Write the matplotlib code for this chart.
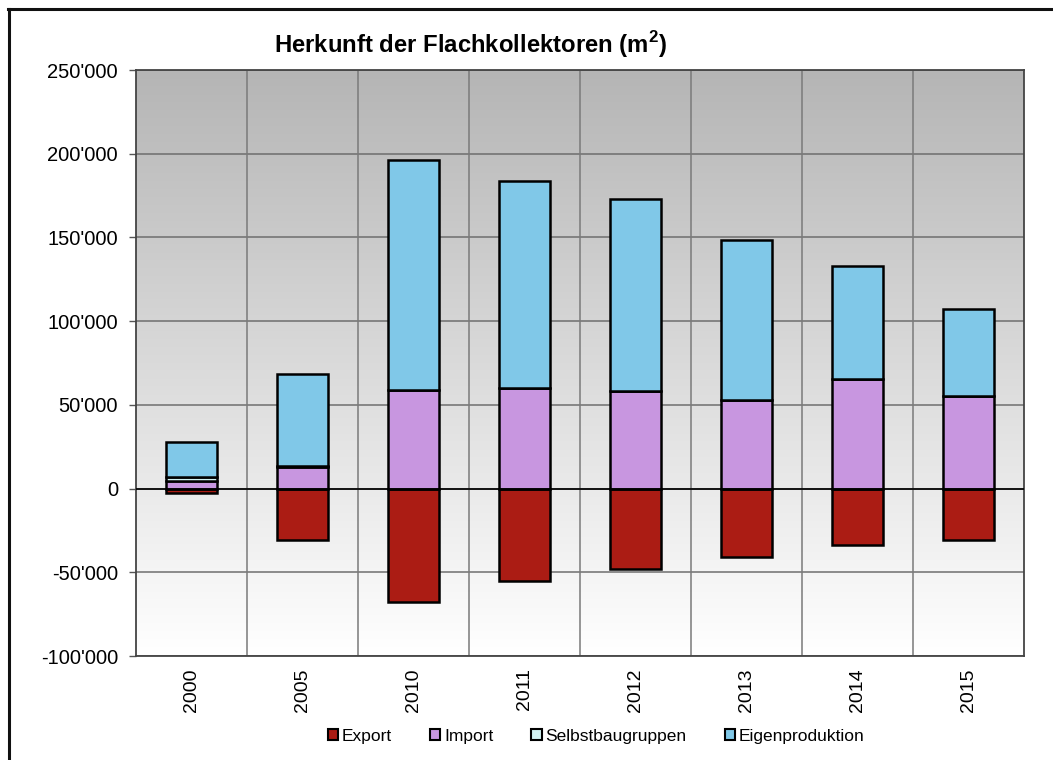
import matplotlib
matplotlib.use("Agg")
import matplotlib.pyplot as plt
import numpy as np
from matplotlib.ticker import FuncFormatter
from matplotlib.lines import Line2D
from matplotlib.patches import Patch

years = ["2000", "2005", "2010", "2011", "2012", "2013", "2014", "2015"]
export = [-2800, -31000, -67500, -55000, -48000, -41000, -34000, -31000]
imports = [4600, 13000, 59000, 60300, 58000, 53000, 65700, 55000]
selbstbau = [2600, 500, 0, 0, 0, 0, 0, 0]
eigen = [20700, 55200, 137500, 123700, 115000, 95700, 67300, 52500]

c_export = "#ab1c14"
c_import = "#c896e0"
c_selbst = "#d2f2f2"
c_eigen = "#80c8e8"

plt.rcParams['font.family'] = ['Liberation Sans', 'DejaVu Sans']
plt.rcParams['mathtext.fontset'] = 'custom'
plt.rcParams['mathtext.bf'] = 'Liberation Sans:bold'

fig = plt.figure(figsize=(10.53, 7.6), dpi=100)
ax = fig.add_axes([136/1053, 1-656/760, (1024-136)/1053, (656-70)/760])

x = np.arange(len(years))
w = 0.46
ek = dict(edgecolor="black", linewidth=1.8, zorder=3)
imp = np.array(imports)
sel = np.array(selbstbau)
ax.bar(x, export, w, color=c_export, **ek)
ax.bar(x, imp, w, color=c_import, **ek)
ax.bar(x, sel, w, bottom=imp, color=c_selbst, **ek)
ax.bar(x, eigen, w, bottom=imp + sel, color=c_eigen, **ek)

ax.set_xlim(-0.5, len(years) - 0.5)
ax.set_ylim(-100000, 250000)

# gradient background
grad = np.linspace(0, 1, 256).reshape(-1, 1)
top_c = np.array([0.71, 0.71, 0.71])
bot_c = np.array([1.0, 1.0, 1.0])
img = top_c + (bot_c - top_c) * grad
img = np.repeat(img[:, None, :], 2, axis=1).reshape(256, 2, 3)
ax.imshow(img, extent=(-0.5, len(years) - 0.5, -100000, 250000), aspect="auto",
          origin="upper", zorder=0)

ax.set_yticks(np.arange(-100000, 250001, 50000))
ax.yaxis.set_major_formatter(FuncFormatter(lambda v, p: "{:,}".format(int(v)).replace(",", "'")))
ax.set_xticks(x)
ax.set_xticklabels(years, rotation=90)
ax.tick_params(axis="x", length=0, labelsize=14, pad=9)
ax.tick_params(axis="y", length=5, labelsize=14.5, width=1, color="#555555", pad=8)

# grid
for yv in np.arange(-100000, 250001, 50000):
    ax.axhline(yv, color="#6e6e6e", lw=1.1, zorder=1)
for xv in np.arange(0.5, len(years) - 0.5, 1):
    ax.axvline(xv, color="#7a7a7a", lw=1.1, zorder=1)
ax.axhline(0, color="black", lw=1.2, zorder=4)

for s in ax.spines.values():
    s.set_color("#444444")
    s.set_linewidth(1.3)

fig.text(471/1053, 1-45/760, "Herkunft der Flachkollektoren (m$^\\mathbf{2}$)",
         ha="center", va="center", fontsize=17.2, fontweight="bold")

handles = [Patch(facecolor=c, edgecolor="black", linewidth=1.5) for c in
           [c_export, c_import, c_selbst, c_eigen]]
labels = ["Export", "Import", "Selbstbaugruppen", "Eigenproduktion"]
fig.legend(handles, labels, loc="center", bbox_to_anchor=(596/1053, 1-736/760), ncol=4,
           frameon=False, fontsize=12.5, handlelength=0.6, handleheight=0.6,
           handletextpad=0.2, columnspacing=2.2)

# figure frame (left and top)
fig.add_artist(Line2D([8.7/1053, 8.7/1053], [0, 1-8.7/760], color="#111111", lw=2.2,
                      transform=fig.transFigure))
fig.add_artist(Line2D([7.6/1053, 1], [1-8.7/760, 1-8.7/760], color="#111111", lw=2.2,
                      transform=fig.transFigure))

fig.savefig("out.png", dpi=100)
